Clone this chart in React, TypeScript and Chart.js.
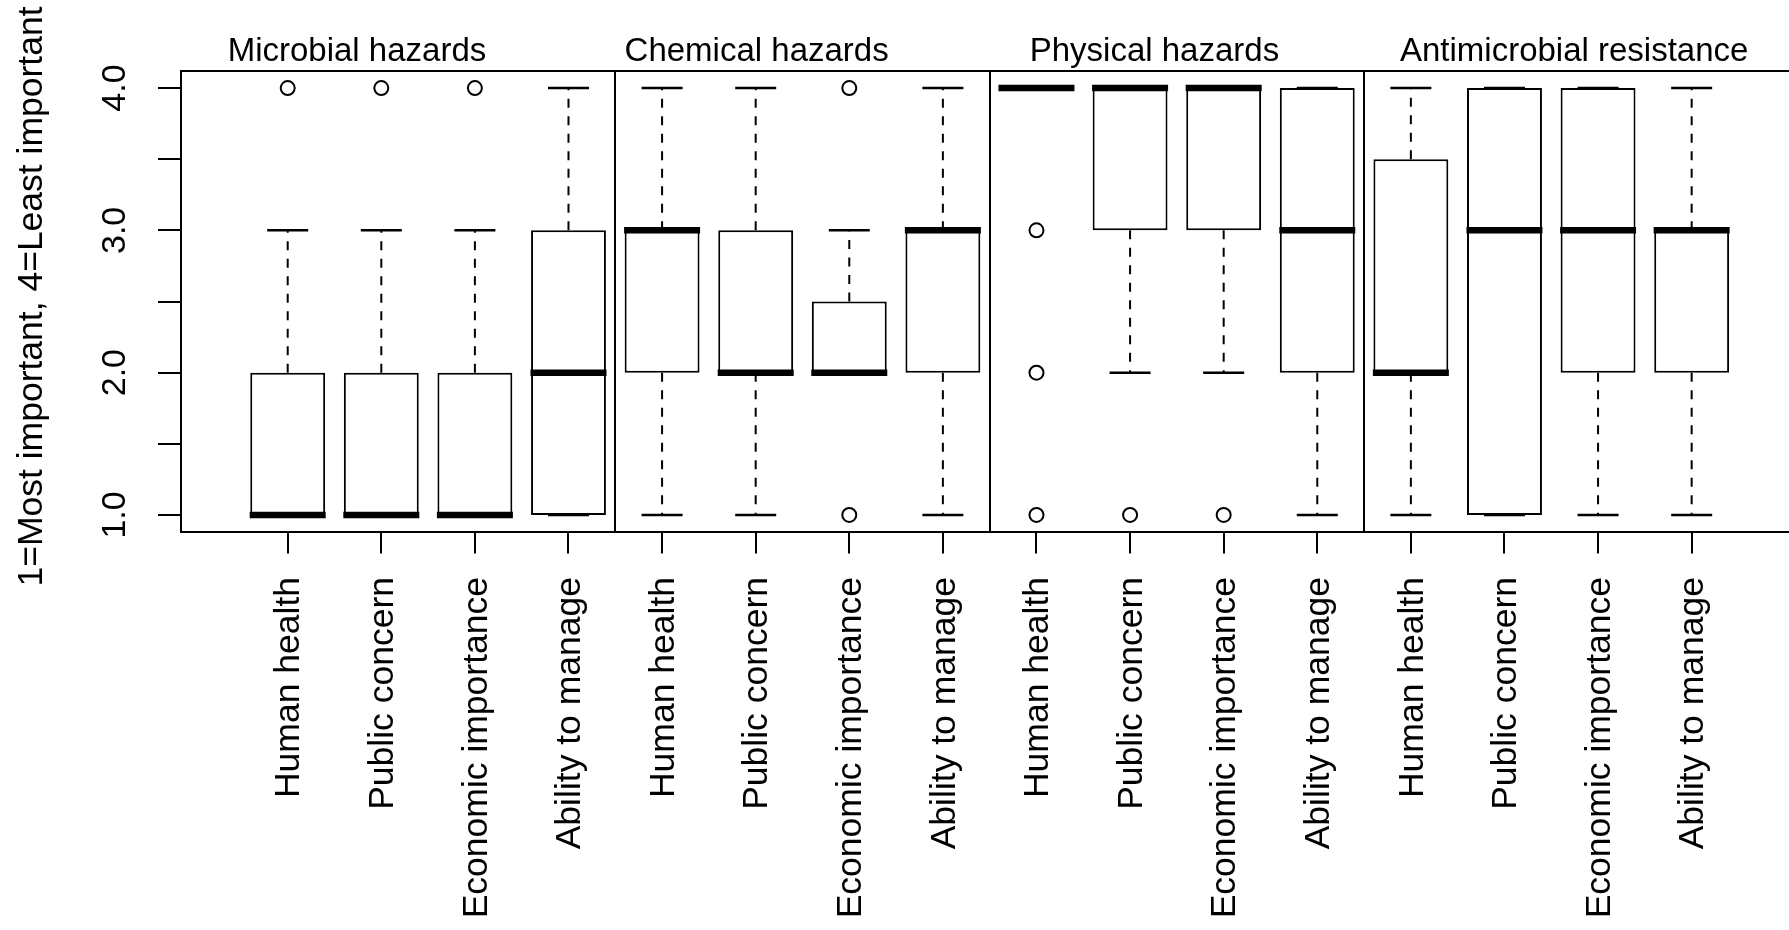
import React, { useEffect, useRef } from 'react';
import { Chart, registerables } from 'chart.js';

Chart.register(...registerables);

// ---------- data ----------
const groupTitles = ['Microbial hazards', 'Chemical hazards', 'Physical hazards', 'Antimicrobial resistance'];
const groupTitleAt = [1.74, 6.01, 10.26, 14.745];
const groupDividers = [4.5, 8.5, 12.5];

const categories = [
  'Human health', 'Public concern', 'Economic importance', 'Ability to manage',
  'Human health', 'Public concern', 'Economic importance', 'Ability to manage',
  'Human health', 'Public concern', 'Economic importance', 'Ability to manage',
  'Human health', 'Public concern', 'Economic importance', 'Ability to manage',
];
const positions = [1, 2, 3, 4, 5, 6, 7, 8, 9, 10, 11, 12, 13, 14, 15, 16];

const whiskerLow = [1, 1, 1, 1, 1, 1, 2, 1, 4, 2, 2, 1, 1, 1, 1, 1];
const q1 = [1, 1, 1, 1, 2, 2, 2, 2, 4, 3, 3, 2, 2, 1, 2, 2];
const median = [1, 1, 1, 2, 3, 2, 2, 3, 4, 4, 4, 3, 2, 3, 3, 3];
const q3 = [2, 2, 2, 3, 3, 3, 2.5, 3, 4, 4, 4, 4, 3.5, 4, 4, 3];
const whiskerHigh = [3, 3, 3, 4, 4, 4, 3, 4, 4, 4, 4, 4, 4, 4, 4, 4];
const outliers: number[][] = [[4], [4], [4], [], [], [], [1, 4], [], [1, 2, 3], [1], [1], [], [], [], [], []];

const yTicks = [1, 1.5, 2, 2.5, 3, 3.5, 4];
const yTickLabels = ['1.0', '', '2.0', '', '3.0', '', '4.0'];
const yTitle = '1=Most important, 4=Least important';

const FONT = "'Liberation Sans', Arial, sans-serif";

export default function App() {
  const ref = useRef<HTMLCanvasElement>(null);

  useEffect(() => {
    if (!ref.current) return;

    const boxes = positions.map((x, i) => ({ x, y: [q1[i], q3[i]] }));
    const whiskers: any[] = [];
    positions.forEach((x, i) => {
      if (whiskerHigh[i] > q3[i]) whiskers.push({ x, y: q3[i] }, { x, y: whiskerHigh[i] }, { x, y: null });
      if (whiskerLow[i] < q1[i]) whiskers.push({ x, y: q1[i] }, { x, y: whiskerLow[i] }, { x, y: null });
    });
    const caps: any[] = [];
    positions.forEach((x, i) => {
      caps.push({ x, y: whiskerHigh[i] }, { x, y: whiskerLow[i] });
    });
    const medians = positions.map((x, i) => ({ x, y: median[i] }));
    const outPts: any[] = [];
    positions.forEach((x, i) => outliers[i].forEach((v) => outPts.push({ x, y: v })));

    const annot = {
      id: 'annot',
      afterDatasetsDraw(chart: any) {
        const { ctx, chartArea: a, scales } = chart;
        const xs = scales.x;
        const ys = scales.y;
        ctx.save();
        ctx.strokeStyle = '#000';
        ctx.lineWidth = 2;
        ctx.beginPath();
        ctx.moveTo(a.left - 1, a.top);
        ctx.lineTo(a.right, a.top);
        groupDividers.forEach((v) => {
          const px = Math.round(xs.getPixelForValue(v));
          ctx.moveTo(px, a.top);
          ctx.lineTo(px, a.bottom);
        });
        ctx.stroke();

        ctx.fillStyle = '#000';
        ctx.textAlign = 'center';
        ctx.textBaseline = 'alphabetic';
        ctx.font = `33px ${FONT}`;
        groupTitles.forEach((t, i) => ctx.fillText(t, xs.getPixelForValue(groupTitleAt[i]), 61));

        ctx.font = `34px ${FONT}`;
        yTicks.forEach((v, i) => {
          if (!yTickLabels[i]) return;
          ctx.save();
          ctx.translate(125, ys.getPixelForValue(v));
          ctx.rotate(-Math.PI / 2);
          ctx.fillText(yTickLabels[i], 0, 0);
          ctx.restore();
        });

        ctx.font = `35.5px ${FONT}`;
        ctx.translate(42, 296.5);
        ctx.rotate(-Math.PI / 2);
        ctx.fillText(yTitle, 0, 0);
        ctx.restore();
      },
    };

    const chart = new Chart(ref.current, {
      type: 'bar',
      data: {
        datasets: [
          {
            type: 'scatter',
            data: outPts,
            order: 0,
            pointStyle: 'circle',
            pointRadius: 7,
            pointBorderWidth: 2,
            pointBorderColor: '#000',
            pointBackgroundColor: '#fff',
          } as any,
          {
            type: 'scatter',
            data: medians,
            order: 1,
            pointStyle: 'line',
            pointRadius: 38,
            pointBorderWidth: 6.5,
            pointBorderColor: '#000',
          } as any,
          {
            type: 'scatter',
            data: caps,
            order: 2,
            pointStyle: 'line',
            pointRadius: 20.5,
            pointBorderWidth: 2.5,
            pointBorderColor: '#000',
          } as any,
          {
            type: 'line',
            data: whiskers,
            order: 3,
            borderColor: '#000',
            borderWidth: 2,
            borderDash: [9, 8.5],
            pointRadius: 0,
            spanGaps: false,
            fill: false,
          } as any,
          {
            type: 'bar',
            data: boxes,
            order: 4,
            backgroundColor: '#fff',
            borderColor: '#000',
            borderWidth: 2,
            borderSkipped: false,
            barPercentage: 0.8,
            categoryPercentage: 1.0,
          } as any,
        ],
      },
      options: {
        responsive: false,
        animation: false,
        events: [],
        layout: { autoPadding: false, padding: { left: 0, top: 71, right: 0, bottom: 0 } },
        plugins: { legend: { display: false }, tooltip: { enabled: false } },
        scales: {
          x: {
            type: 'linear',
            offset: false,
            min: -0.14,
            max: 17.04,
            afterBuildTicks: (scale: any) => {
              scale.ticks = positions.map((v) => ({ value: v }));
            },
            afterFit: (scale: any) => {
              scale.height = 398;
              scale.paddingLeft = 0;
              scale.paddingRight = 0;
            },
            ticks: {
              autoSkip: false,
              minRotation: 90,
              maxRotation: 90,
              padding: 23.5,
              labelOffset: 2,
              color: '#000',
              font: { family: FONT, size: 35.5 },
              callback: (value: any) => {
                const idx = positions.indexOf(Number(value));
                return idx >= 0 ? categories[idx] : '';
              },
            },
            grid: {
              display: true,
              offset: false,
              drawOnChartArea: false,
              drawTicks: true,
              tickLength: 21.5,
              color: '#000',
              lineWidth: 2,
            },
            border: { display: true, color: '#000', width: 2 },
          },
          y: {
            type: 'linear',
            min: 0.88,
            max: 4.12,
            afterBuildTicks: (scale: any) => {
              scale.ticks = yTicks.map((v) => ({ value: v }));
            },
            afterFit: (scale: any) => {
              scale.width = 181;
              scale.paddingTop = 0;
              scale.paddingBottom = 0;
            },
            ticks: { display: false },
            grid: {
              display: true,
              drawOnChartArea: false,
              drawTicks: true,
              tickLength: 23,
              color: '#000',
              lineWidth: 2,
            },
            border: { display: true, color: '#000', width: 2 },
          },
        },
      } as any,
      plugins: [annot],
    });

    return () => chart.destroy();
  }, []);

  return (
    <div style={{ position: 'absolute', left: 0, top: 0, width: 1789, height: 930, background: '#fff' }}>
      <canvas ref={ref} width={1789} height={930} style={{ display: 'block', width: 1789, height: 930 }} />
    </div>
  );
}
